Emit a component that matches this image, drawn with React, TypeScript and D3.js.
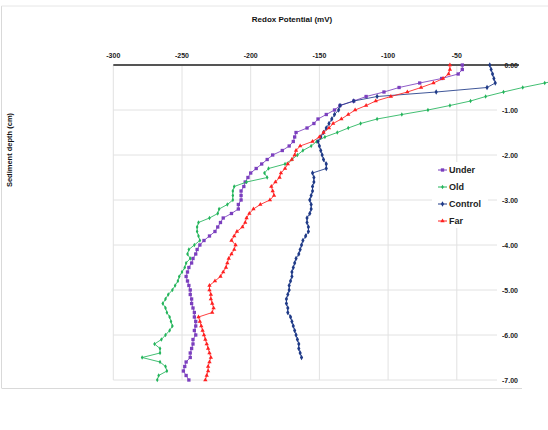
import React from "react";
import * as d3 from "d3";

const depthStep = 0.1;
const xTicks = [-300, -250, -200, -150, -100, -50];
const yTicks = [0, -1, -2, -3, -4, -5, -6, -7];

const underValues = [-46, -46, -49, -61, -77, -92, -103, -116, -125, -135, -139, -145, -151, -154, -159, -167, -168, -169, -172, -177, -184, -188, -192, -196, -200, -202, -204, -205, -207, -207, -207, -209, -209, -214, -220, -222, -224, -226, -230, -234, -237, -239, -240, -242, -243, -245, -246, -247, -246, -245, -244, -244, -243, -243, -242, -241, -241, -240, -240, -241, -240, -242, -242, -243, -244, -244, -247, -248, -249, -247, -245];
const oldValues = [75, 60, 45, 30, 14, -2, -16, -29, -40, -55, -71, -90, -108, -120, -129, -137, -146, -152, -156, -162, -166, -170, -175, -187, -190, -188, -203, -212, -213, -213, -213, -217, -223, -224, -230, -238, -239, -239, -238, -237, -241, -245, -246, -244, -247, -248, -250, -252, -253, -255, -257, -260, -262, -264, -262, -261, -259, -258, -257, -259, -262, -265, -270, -266, -266, -279, -266, -262, -261, -267, -268];
const controlValues = [-26, -25, -24, -23, -22, -28, -65, -108, -125, -135, -136, -139, -141, -143, -145, -147, -149, -151, -150, -149, -148, -147, -145, -145, -155, -154, -154, -155, -155, -156, -157, -156, -156, -157, -159, -159, -158, -158, -160, -162, -163, -164, -165, -167, -168, -169, -170, -170, -171, -172, -172, -173, -174, -174, -173, -173, -171, -170, -169, -168, -167, -166, -165, -165, -164, -163];
const farValues = [-55, -55, -56, -60, -67, -76, -86, -98, -109, -116, -124, -129, -134, -140, -143, -147, -150, -155, -164, -167, -168, -170, -173, -175, -178, -179, -182, -185, -184, -183, -186, -193, -198, -201, -203, -204, -206, -210, -212, -214, -211, -212, -214, -216, -217, -218, -220, -222, -226, -230, -230, -229, -229, -228, -227, -228, -238, -237, -236, -235, -234, -233, -232, -231, -230, -229, -230, -231, -231, -232, -233];

const seriesNames = ["Under", "Old", "Control", "Far"];

type Series = { name: string; values: number[]; color: string; symbol: d3.SymbolType; size: number };

const series: Series[] = [
  { name: seriesNames[0], values: underValues, color: "#7B3FBE", symbol: d3.symbolSquare, size: 11 },
  { name: seriesNames[1], values: oldValues, color: "#22B45A", symbol: d3.symbolDiamond, size: 6 },
  { name: seriesNames[2], values: controlValues, color: "#1F3A87", symbol: d3.symbolDiamond, size: 9 },
  { name: seriesNames[3], values: farValues, color: "#FF2020", symbol: d3.symbolTriangle, size: 8 },
];

export default function App() {
  const W = 548;
  const H = 430;
  const x = d3.scaleLinear().domain([-300, 0]).range([113.3, 525.5]);
  const y = d3.scaleLinear().domain([0, -7]).range([65, 380]);
  const gridRight = 497;
  const font = "'Liberation Sans', Arial, sans-serif";

  const line = d3
    .line<number>()
    .x((v) => x(v))
    .y((_, i) => y(-i * depthStep));

  return (
    <svg width={W} height={H} style={{ position: "absolute", left: 0, top: 0, background: "#fff" }} fontFamily={font}>
      <rect x={0} y={0} width={W} height={H} fill="#fff" />
      {/* chart border */}
      <line x1={1.5} y1={6} x2={1.5} y2={388} stroke="#d9d9d9" />
      <line x1={1.5} y1={6} x2={W} y2={6} stroke="#e6e6e6" />
      <line x1={1.5} y1={388.5} x2={522} y2={388.5} stroke="#d9d9d9" />

      {/* gridlines */}
      {yTicks.slice(1).map((t) => (
        <line key={"h" + t} x1={x(-300)} x2={gridRight} y1={y(t)} y2={y(t)} stroke="#e2e2e2" strokeWidth={1} />
      ))}
      {xTicks.map((t) => (
        <line key={"v" + t} x1={x(t)} x2={x(t)} y1={y(0)} y2={y(-7)} stroke="#e2e2e2" strokeWidth={1} />
      ))}

      {/* top axis */}
      <line x1={x(-300)} x2={519} y1={y(0)} y2={y(0)} stroke="#555" strokeWidth={2} />
      {xTicks.map((t) => (
        <text key={"xt" + t} x={x(t)} y={58} fontSize={7} fontWeight="bold" textAnchor="middle" fill="#222">
          {t}
        </text>
      ))}
      {yTicks.map((t) => (
        <text key={"yt" + t} x={518} y={y(t) + 2.5} fontSize={7} fontWeight="bold" textAnchor="end" fill="#222">
          {t.toFixed(2)}
        </text>
      ))}

      {/* titles */}
      <text x={292} y={22} fontSize={8} fontWeight="bold" textAnchor="middle" fill="#111">
        Redox Potential (mV)
      </text>
      <text
        transform="translate(12,150) rotate(-90)"
        fontSize={7.5}
        fontWeight="bold"
        textAnchor="middle"
        fill="#111"
      >
        Sediment depth (cm)
      </text>

      {/* series */}
      {series.map((s) => (
        <g key={s.name}>
          <path d={line(s.values) || ""} fill="none" stroke={s.color} strokeWidth={1} opacity={0.85} />
          {s.values.map((v, i) => (
            <path
              key={i}
              d={d3.symbol().type(s.symbol).size(s.size)() || ""}
              transform={`translate(${x(v)},${y(-i * depthStep)})`}
              fill={s.color}
            />
          ))}
        </g>
      ))}

      {/* legend */}
      <rect x={432} y={162} width={56} height={66} fill="#fff" />
      {series.map((s, i) => {
        const ly = 170 + i * 17;
        return (
          <g key={"lg" + s.name}>
            <line x1={438} x2={447} y1={ly} y2={ly} stroke={s.color} strokeWidth={1} />
            <path d={d3.symbol().type(s.symbol).size(s.size)() || ""} transform={`translate(442.5,${ly})`} fill={s.color} />
            <text x={449} y={ly + 3} fontSize={9} fontWeight="bold" fill="#222">
              {s.name}
            </text>
          </g>
        );
      })}
    </svg>
  );
}
